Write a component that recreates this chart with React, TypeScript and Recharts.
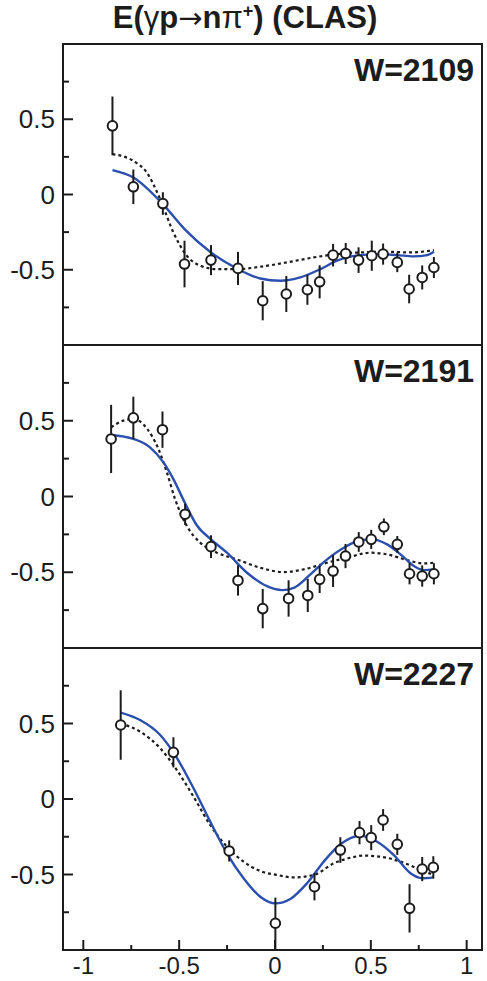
import {
  ComposedChart,
  XAxis,
  YAxis,
  Line,
  Scatter,
  ErrorBar,
  ReferenceArea,
} from 'recharts';

// cos(theta) grid ticks and E axis ticks
const X_DOMAIN: [number, number] = [-1.106, 1.08];
const X_TICKS = [-1, -0.75, -0.5, -0.25, 0, 0.25, 0.5, 0.75, 1];
const Y_TICKS = [-0.75, -0.5, -0.25, 0, 0.25, 0.5, 0.75];
const MAJOR = [-1, -0.5, 0, 0.5, 1];

// W = 2109
const COS_2109 = [-0.848, -0.739, -0.585, -0.472, -0.334, -0.193, -0.064, 0.059, 0.169, 0.233, 0.303, 0.369, 0.436, 0.505, 0.564, 0.638, 0.7, 0.768, 0.829];
const E_2109 = [0.456, 0.051, -0.06, -0.462, -0.436, -0.491, -0.706, -0.661, -0.633, -0.58, -0.403, -0.392, -0.436, -0.407, -0.396, -0.451, -0.628, -0.551, -0.485];
const ERR_2109 = [0.195, 0.115, 0.075, 0.155, 0.1, 0.11, 0.13, 0.12, 0.1, 0.11, 0.075, 0.07, 0.085, 0.1, 0.07, 0.065, 0.095, 0.08, 0.07];
const BLUE_X_2109 = [-0.848, -0.739, -0.585, -0.472, -0.334, -0.193, -0.077, 0.028, 0.132, 0.237, 0.324, 0.446, 0.55, 0.638, 0.725, 0.794, 0.829];
const BLUE_Y_2109 = [0.162, 0.113, -0.064, -0.23, -0.385, -0.496, -0.558, -0.573, -0.551, -0.496, -0.44, -0.403, -0.396, -0.403, -0.411, -0.403, -0.381];
const DOT_X_2109 = [-0.848, -0.739, -0.669, -0.599, -0.53, -0.46, -0.39, -0.303, -0.193, -0.077, 0.063, 0.202, 0.324, 0.446, 0.585, 0.707, 0.829];
const DOT_Y_2109 = [0.268, 0.223, 0.146, -0.031, -0.252, -0.407, -0.473, -0.496, -0.496, -0.48, -0.451, -0.418, -0.396, -0.385, -0.381, -0.385, -0.37];

// W = 2191
const COS_2191 = [-0.855, -0.739, -0.587, -0.469, -0.334, -0.193, -0.064, 0.071, 0.171, 0.233, 0.303, 0.368, 0.437, 0.502, 0.568, 0.638, 0.702, 0.768, 0.829];
const E_2191 = [0.38, 0.519, 0.441, -0.117, -0.331, -0.554, -0.74, -0.673, -0.653, -0.547, -0.492, -0.393, -0.3, -0.283, -0.2, -0.316, -0.51, -0.525, -0.51];
const ERR_2191 = [0.225, 0.14, 0.12, 0.07, 0.075, 0.1, 0.13, 0.12, 0.11, 0.09, 0.105, 0.08, 0.065, 0.063, 0.055, 0.055, 0.07, 0.07, 0.07];
const BLUE_X_2191 = [-0.855, -0.739, -0.652, -0.582, -0.53, -0.469, -0.408, -0.334, -0.251, -0.146, -0.042, 0.037, 0.098, 0.185, 0.272, 0.359, 0.446, 0.507, 0.585, 0.655, 0.725, 0.777, 0.829];
const BLUE_Y_2191 = [0.406, 0.38, 0.324, 0.225, 0.115, -0.045, -0.19, -0.283, -0.371, -0.503, -0.592, -0.618, -0.603, -0.514, -0.415, -0.338, -0.289, -0.283, -0.316, -0.382, -0.459, -0.486, -0.481];
const DOT_X_2191 = [-0.855, -0.791, -0.739, -0.669, -0.608, -0.564, -0.521, -0.46, -0.39, -0.303, -0.199, -0.077, 0.045, 0.15, 0.272, 0.376, 0.498, 0.585, 0.69, 0.777, 0.829];
const DOT_Y_2191 = [0.457, 0.501, 0.512, 0.45, 0.313, 0.159, -0.018, -0.194, -0.305, -0.371, -0.415, -0.47, -0.499, -0.481, -0.437, -0.404, -0.371, -0.382, -0.42, -0.442, -0.437];

// W = 2227
const COS_2227 = [-0.805, -0.53, -0.239, 0.002, 0.206, 0.341, 0.441, 0.502, 0.564, 0.638, 0.702, 0.768, 0.826];
const E_2227 = [0.49, 0.309, -0.344, -0.823, -0.581, -0.338, -0.223, -0.256, -0.139, -0.3, -0.724, -0.464, -0.453];
const ERR_2227 = [0.23, 0.1, 0.07, 0.17, 0.09, 0.085, 0.077, 0.083, 0.072, 0.07, 0.16, 0.08, 0.074];
const BLUE_X_2227 = [-0.805, -0.704, -0.599, -0.521, -0.425, -0.338, -0.251, -0.164, -0.077, 0.002, 0.08, 0.167, 0.254, 0.341, 0.446, 0.533, 0.62, 0.707, 0.768, 0.826];
const BLUE_Y_2227 = [0.572, 0.523, 0.424, 0.291, 0.071, -0.15, -0.36, -0.525, -0.647, -0.691, -0.662, -0.558, -0.415, -0.3, -0.243, -0.283, -0.371, -0.492, -0.525, -0.519];
const DOT_X_2227 = [-0.805, -0.704, -0.599, -0.512, -0.425, -0.338, -0.251, -0.164, -0.077, 0.01, 0.098, 0.202, 0.307, 0.394, 0.463, 0.55, 0.655, 0.742, 0.826];
const DOT_Y_2227 = [0.5, 0.446, 0.336, 0.192, 0.015, -0.172, -0.316, -0.415, -0.477, -0.503, -0.519, -0.503, -0.426, -0.389, -0.375, -0.382, -0.415, -0.459, -0.503];

const FONT = '"Liberation Sans", Arial, Helvetica, sans-serif';
const INK = '#1c1c1c';
const BLUE = '#2b4fae';

const zip = (xs: number[], ys: number[]) => xs.map((x, i) => ({ x, y: ys[i] }));

function XTick(props: any, showLabel: boolean) {
  const { x, y, payload } = props;
  const major = MAJOR.includes(payload.value);
  return (
    <g>
      <line x1={x} x2={x} y1={y} y2={y - (major ? 10 : 5)} stroke={INK} strokeWidth={2} />
      {showLabel && major && (
        <text x={x} y={y + 24} textAnchor="middle" fontSize={24} fontFamily={FONT} fill={INK}>
          {String(payload.value)}
        </text>
      )}
    </g>
  );
}

function YTick(props: any) {
  const { x, y, payload } = props;
  const major = MAJOR.includes(payload.value);
  return (
    <g>
      <line x1={x} x2={x + (major ? 10 : 6)} y1={y} y2={y} stroke={INK} strokeWidth={2} />
      {major && (
        <text x={x - 8} y={y + 9} textAnchor="end" fontSize={26} fontFamily={FONT} fill={INK}>
          {String(payload.value)}
        </text>
      )}
    </g>
  );
}

const OpenCircle = (props: any) => (
  <circle cx={props.cx} cy={props.cy} r={4.8} fill="#fff" stroke={INK} strokeWidth={2} />
);

interface PanelProps {
  label: string;
  top: number;
  plotHeight: number;
  bottomAxis: boolean;
  cos: number[];
  e: number[];
  err: number[];
  blue: { x: number; y: number }[];
  dotted: { x: number; y: number }[];
}

function Panel({ label, top, plotHeight, bottomAxis, cos, e, err, blue, dotted }: PanelProps) {
  const points = cos.map((x, i) => ({ x, y: e[i], err: err[i] }));
  const axisH = bottomAxis ? 31 : 0;
  const mBottom = bottomAxis ? 0 : 4;
  const height = 4 + plotHeight + axisH + mBottom;
  return (
    <div style={{ position: 'absolute', left: 0, top: top - 4 }}>
      <ComposedChart width={487} height={height} margin={{ top: 4, right: 5, bottom: mBottom, left: 0 }}>
        <XAxis
          type="number"
          dataKey="x"
          domain={X_DOMAIN}
          allowDataOverflow
          ticks={X_TICKS}
          interval={0}
          height={axisH}
          tickSize={0}
          tickMargin={0}
          axisLine={false}
          tickLine={false}
          tick={(p: any) => XTick(p, bottomAxis)}
        />
        <YAxis
          type="number"
          dataKey="y"
          domain={[-1, 1]}
          allowDataOverflow
          ticks={Y_TICKS}
          interval={0}
          width={63}
          tickSize={0}
          tickMargin={0}
          axisLine={false}
          tickLine={false}
          tick={YTick}
        />
        <Line
          data={dotted}
          dataKey="y"
          type="monotone"
          stroke={INK}
          strokeWidth={2.2}
          strokeDasharray="3 3"
          dot={false}
          isAnimationActive={false}
        />
        <Line
          data={blue}
          dataKey="y"
          type="monotone"
          stroke={BLUE}
          strokeWidth={2.4}
          dot={false}
          isAnimationActive={false}
        />
        <ReferenceArea
          x1={X_DOMAIN[0]}
          x2={X_DOMAIN[1]}
          y1={-1}
          y2={1}
          fill="none"
          fillOpacity={0}
          stroke={INK}
          strokeWidth={2}
          ifOverflow="visible"
        />
        <Scatter data={points} dataKey="y" shape={OpenCircle} isAnimationActive={false}>
          <ErrorBar dataKey="err" direction="y" width={0} stroke={INK} strokeWidth={2} />
        </Scatter>
      </ComposedChart>
      <div
        style={{
          position: 'absolute',
          right: 13,
          top: 4 + 8,
          fontFamily: FONT,
          fontWeight: 700,
          fontSize: 32,
          lineHeight: '36px',
          color: INK,
        }}
      >
        {label}
      </div>
    </div>
  );
}

export default function App() {
  return (
    <div style={{ position: 'absolute', left: 0, top: 0, width: 487, height: 981, background: '#fff' }}>
      <div
        style={{
          position: 'absolute',
          left: 0,
          width: 490,
          top: 1,
          textAlign: 'center',
          fontFamily: FONT,
          fontWeight: 700,
          fontSize: 31,
          lineHeight: '34px',
          color: INK,
          whiteSpace: 'nowrap',
        }}
      >
        E(<span style={{ fontWeight: 400 }}>γ</span>p
        <span style={{ fontWeight: 400, fontFamily: '"DejaVu Sans", sans-serif', fontSize: 29 }}>→</span>n
        <span style={{ fontWeight: 400 }}>π</span>
        <sup style={{ fontSize: 18, lineHeight: 0 }}>+</sup>) (CLAS)
      </div>
      <Panel
        label="W=2109"
        top={44}
        plotHeight={301}
        bottomAxis={false}
        cos={COS_2109}
        e={E_2109}
        err={ERR_2109}
        blue={zip(BLUE_X_2109, BLUE_Y_2109)}
        dotted={zip(DOT_X_2109, DOT_Y_2109)}
      />
      <Panel
        label="W=2191"
        top={345}
        plotHeight={303}
        bottomAxis={false}
        cos={COS_2191}
        e={E_2191}
        err={ERR_2191}
        blue={zip(BLUE_X_2191, BLUE_Y_2191)}
        dotted={zip(DOT_X_2191, DOT_Y_2191)}
      />
      <Panel
        label="W=2227"
        top={648}
        plotHeight={302}
        bottomAxis
        cos={COS_2227}
        e={E_2227}
        err={ERR_2227}
        blue={zip(BLUE_X_2227, BLUE_Y_2227)}
        dotted={zip(DOT_X_2227, DOT_Y_2227)}
      />
    </div>
  );
}
